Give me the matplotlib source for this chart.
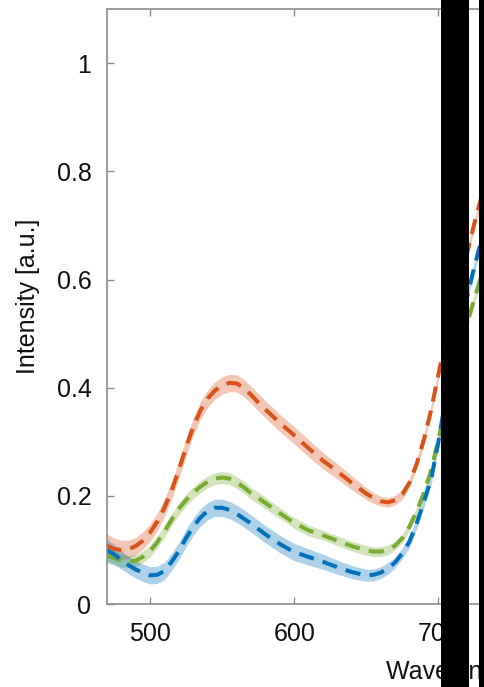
import matplotlib
matplotlib.use("Agg")
import matplotlib.pyplot as plt
from matplotlib.patches import Rectangle

plt.rcParams["font.family"] = ["Liberation Sans", "DejaVu Sans"]

# Wavelength grid [nm]
wavelength = [470, 475, 480, 485, 490, 495, 500, 505, 510, 515, 520, 525, 530,
              535, 540, 545, 550, 555, 560, 565, 570, 575, 580, 590, 600, 610,
              620, 630, 640, 650, 655, 660, 665, 670, 675, 680, 685, 690, 695,
              700, 705, 710, 715, 720, 725, 730]

# Mean intensity of each sample
red_mean = [0.108, 0.102, 0.100, 0.101, 0.107, 0.117, 0.132, 0.152, 0.178, 0.210,
            0.248, 0.290, 0.328, 0.358, 0.380, 0.395, 0.404, 0.409, 0.408, 0.400,
            0.387, 0.373, 0.360, 0.335, 0.312, 0.288, 0.265, 0.245, 0.224, 0.204,
            0.196, 0.190, 0.188, 0.192, 0.203, 0.225, 0.260, 0.305, 0.360, 0.425,
            0.490, 0.550, 0.605, 0.650, 0.705, 0.755]
green_mean = [0.090, 0.085, 0.080, 0.078, 0.080, 0.087, 0.098, 0.114, 0.134, 0.156,
              0.176, 0.192, 0.206, 0.217, 0.226, 0.232, 0.234, 0.232, 0.225, 0.216,
              0.205, 0.196, 0.187, 0.168, 0.150, 0.136, 0.127, 0.117, 0.107, 0.099,
              0.097, 0.097, 0.100, 0.108, 0.122, 0.144, 0.172, 0.206, 0.248, 0.305,
              0.365, 0.420, 0.470, 0.520, 0.565, 0.610]
blue_mean = [0.100, 0.092, 0.082, 0.072, 0.064, 0.058, 0.053, 0.054, 0.061, 0.078,
             0.098, 0.122, 0.143, 0.160, 0.172, 0.178, 0.178, 0.174, 0.167, 0.158,
             0.149, 0.139, 0.129, 0.111, 0.096, 0.087, 0.078, 0.068, 0.059, 0.053,
             0.054, 0.058, 0.066, 0.077, 0.094, 0.116, 0.150, 0.190, 0.232, 0.300,
             0.380, 0.450, 0.515, 0.570, 0.625, 0.675]

# Half-width of the shaded spread around each mean
red_spread = [0.022, 0.020, 0.018, 0.017, 0.016, 0.016, 0.016, 0.016, 0.016, 0.016,
              0.016, 0.016, 0.016, 0.016, 0.016, 0.016, 0.016, 0.016, 0.016, 0.016,
              0.016, 0.016, 0.016, 0.016, 0.016, 0.016, 0.015, 0.014, 0.013, 0.011,
              0.010, 0.009, 0.009, 0.009, 0.009, 0.009, 0.009, 0.009, 0.009, 0.009,
              0.009, 0.009, 0.009, 0.009, 0.009, 0.009]
green_spread = [0.014, 0.013, 0.012, 0.011, 0.011, 0.011, 0.011, 0.011, 0.011, 0.011,
                0.011, 0.011, 0.011, 0.011, 0.011, 0.011, 0.011, 0.011, 0.011, 0.011,
                0.011, 0.011, 0.011, 0.010, 0.010, 0.010, 0.009, 0.009, 0.009, 0.009,
                0.009, 0.009, 0.009, 0.008, 0.008, 0.008, 0.008, 0.008, 0.008, 0.008,
                0.008, 0.008, 0.008, 0.008, 0.008, 0.008]
blue_spread = [0.020, 0.018, 0.017, 0.016, 0.016, 0.016, 0.016, 0.016, 0.016, 0.016,
               0.016, 0.016, 0.016, 0.016, 0.016, 0.016, 0.016, 0.016, 0.016, 0.016,
               0.016, 0.016, 0.016, 0.016, 0.016, 0.015, 0.014, 0.013, 0.012, 0.011,
               0.011, 0.011, 0.011, 0.010, 0.010, 0.010, 0.010, 0.010, 0.010, 0.010,
               0.010, 0.010, 0.010, 0.010, 0.010, 0.010]

series = [
    (red_mean, red_spread, "#D95319"),
    (green_mean, green_spread, "#77AC30"),
    (blue_mean, blue_spread, "#0072BD"),
]

y_ticks = [0, 0.2, 0.4, 0.6, 0.8, 1]
y_tick_labels = ["0", "0.2", "0.4", "0.6", "0.8", "1"]
x_ticks = [500, 600, 700, 800, 900]
x_tick_labels = ["500", "600", "700", "800", "900"]

W, H = 484, 687
fig = plt.figure(figsize=(W / 100, H / 100), dpi=100)
ax = fig.add_axes([106.7 / W, (H - 604) / H, 745 / W, 594.7 / H])

for mean, spread, color in series:
    lo = [m - s for m, s in zip(mean, spread)]
    hi = [m + s for m, s in zip(mean, spread)]
    ax.fill_between(wavelength, lo, hi, color=color, alpha=0.32, linewidth=0)
for mean, spread, color in series:
    ax.plot(wavelength, mean, color=color, linewidth=2.9, dashes=(3.8, 2.3))

ax.set_xlim(470, 986.5)
ax.set_ylim(0, 1.1)
ax.set_xticks(x_ticks)
ax.set_xticklabels(x_tick_labels)
ax.set_yticks(y_ticks)
ax.set_yticklabels(y_tick_labels)

spine_color = "#8c8c8c"
for side in ["left", "bottom", "top", "right"]:
    ax.spines[side].set_color(spine_color)
    ax.spines[side].set_linewidth(1.2)
ax.tick_params(direction="in", length=5, width=1.0, color=spine_color,
               labelsize=18, labelcolor="#111111", top=True, right=True)
ax.tick_params(axis="y", pad=11)
ax.tick_params(axis="x", pad=13)

ax.set_ylabel("Intensity [a.u.]", fontsize=18, color="#111111")
ax.yaxis.set_label_coords(-0.089, 0.518)
ax.set_xlabel("Wavelength [nm]", fontsize=18, color="#111111")
ax.xaxis.set_label_coords(0.5, -0.094)

# Opaque bars over the right part of the panel
fig.patches.append(Rectangle((441 / W, 0), 28 / W, 1, transform=fig.transFigure,
                             facecolor="black", edgecolor="none", zorder=10))
fig.patches.append(Rectangle((479 / W, 0), 6 / W, 1, transform=fig.transFigure,
                             facecolor="black", edgecolor="none", zorder=10))

fig.savefig("out.png", dpi=100)
